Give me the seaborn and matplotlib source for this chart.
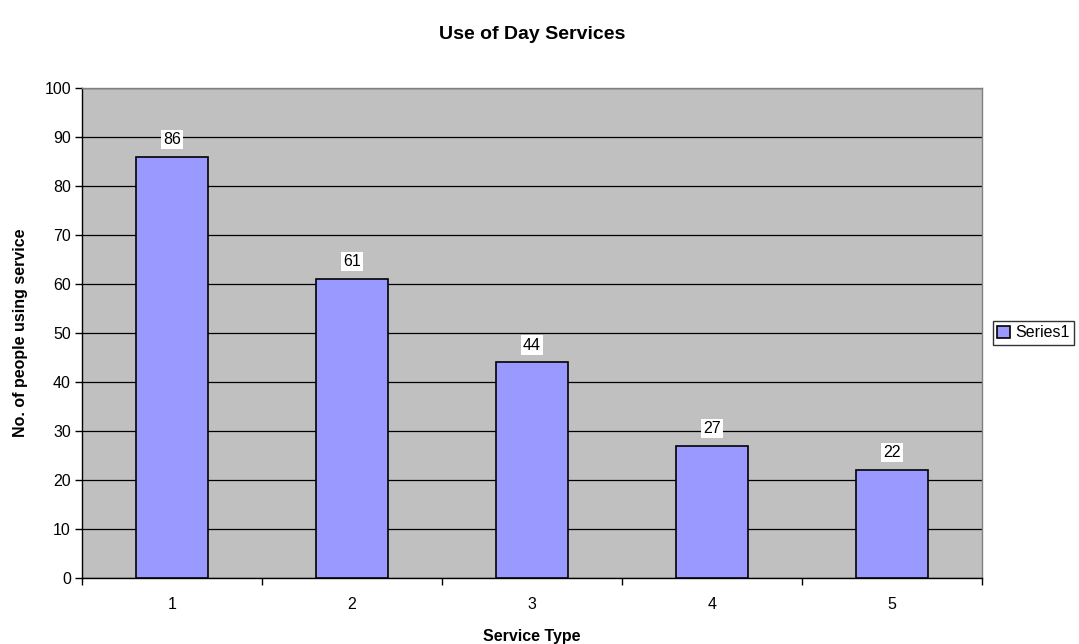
import matplotlib
matplotlib.use("Agg")
import matplotlib.pyplot as plt
import seaborn as sns
import pandas as pd

service_types = ["1", "2", "3", "4", "5"]
people = [86, 61, 44, 27, 22]

df = pd.DataFrame({"Service Type": service_types, "People": people})

sns.set_style("ticks")
plt.rcParams["font.family"] = ["Liberation Sans", "DejaVu Sans"]
plt.rcParams["text.color"] = "black"
plt.rcParams["axes.labelcolor"] = "black"
plt.rcParams["xtick.color"] = "black"
plt.rcParams["ytick.color"] = "black"

fig = plt.figure(figsize=(10.79, 6.44), dpi=100)
ax = fig.add_axes([0.076, 0.1025, 0.834, 0.761])
ax.set_facecolor("#C0C0C0")

sns.barplot(data=df, x="Service Type", y="People", ax=ax, color="#9999FF",
            width=0.4, edgecolor="black", linewidth=1.2, saturation=1,
            label="Series1", zorder=3)

ax.set_ylim(0, 100)
ax.set_xlim(-0.5, 4.5)
ax.set_yticks(range(0, 101, 10))
ax.yaxis.grid(True, color="black", linewidth=0.9, zorder=0)
ax.set_axisbelow(True)

for spine in ["top", "right"]:
    ax.spines[spine].set_visible(True)
    ax.spines[spine].set_color("#808080")
    ax.spines[spine].set_linewidth(1.0)
for spine in ["left", "bottom"]:
    ax.spines[spine].set_color("black")
    ax.spines[spine].set_linewidth(1.0)

# Category boundary ticks on the x axis, labels centred under bars
ax.set_xticks([i + 0.5 for i in range(-1, 5)], minor=False)
ax.set_xticklabels([])
ax.set_xticks(range(5), minor=True)
ax.set_xticklabels(service_types, minor=True)
ax.tick_params(axis="x", which="major", bottom=True, direction="out", length=5, width=1, color="black")
ax.tick_params(axis="x", which="minor", bottom=False, length=0, pad=14, labelsize=11.5, labelcolor="black")
ax.tick_params(axis="y", left=True, direction="out", length=5, width=1, color="black",
               labelsize=11.5, pad=3, labelcolor="black")

for i, v in enumerate(people):
    ax.text(i, v + 2, str(v), ha="center", va="bottom", fontsize=11.5, color="black",
            bbox=dict(facecolor="white", edgecolor="none", pad=1.5), zorder=5)

ax.set_xlabel("Service Type", fontsize=11.5, fontweight="bold", labelpad=12, color="black")
ax.set_ylabel("No. of people using service", fontsize=11.5, fontweight="bold", labelpad=12, color="black")
fig.suptitle("Use of Day Services", fontsize=14, fontweight="bold", y=0.96, x=0.493, color="black")

leg = ax.legend(loc="center left", bbox_to_anchor=(1.012, 0.5), frameon=True,
                fancybox=False, edgecolor="black", fontsize=11.5,
                handlelength=0.8, handleheight=0.8, handletextpad=0.3,
                borderpad=0.3, borderaxespad=0)
leg.get_frame().set_linewidth(1.0)
for t in leg.get_texts():
    t.set_color("black")

fig.savefig("out.png", dpi=100, facecolor="white")
